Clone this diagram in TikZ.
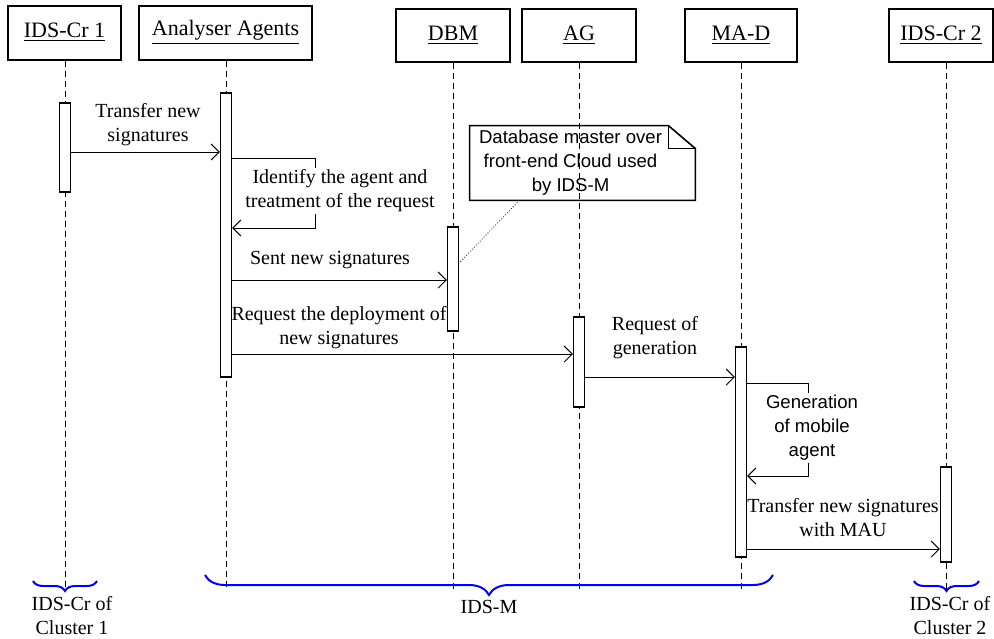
\documentclass[tikz,border=0pt]{standalone}
\usepackage{fontspec}
\setmainfont{Liberation Serif}
\newfontfamily\notefont{Liberation Sans}
\usepackage{tikz}
\usetikzlibrary{arrows.meta, positioning, calc, decorations.pathreplacing}
\definecolor{braceblue}{RGB}{0,0,235}

\begin{document}
\begin{tikzpicture}[
  x=0.5pt, y=-0.5pt,
  head/.style={rectangle, draw, line width=1pt, minimum height=27pt,
    inner sep=0pt, font=\fontsize{11}{13}\selectfont},
  life/.style={line width=0.4pt, dash pattern=on 3pt off 2pt},
  act/.style={rectangle, draw, fill=white, line width=0.6pt,
    minimum width=5.5pt, inner sep=0pt},
  msg/.style={-{Straight Barb[length=4pt,width=8pt]}, line width=0.5pt},
  lbl/.style={align=center, font=\fontsize{10}{12}\selectfont, inner sep=1pt},
  side/.style={align=center, font=\notefont\fontsize{9.3}{12}\selectfont,
    inner sep=1pt},
  brc/.style={decorate, draw=braceblue, line width=1pt}
]
\useasboundingbox (0,0) rectangle (994,638);

% Lifeline heads
\node[head, minimum width=56.5pt] (cr1) at (64.5,32.5) {\underline{IDS-Cr 1}};
\node[head, minimum width=86.5pt] (ana) at (225.5,32.5) {\underline{Analyser Agents}};
\node[head, minimum width=57pt, minimum height=26.5pt] (dbm) at (453,35.5) {\underline{DBM}};
\node[head, minimum width=57pt, minimum height=26.5pt] (ag) at (579,35.5) {\underline{AG}};
\node[head, minimum width=56pt, minimum height=26.5pt] (mad) at (741,35.5) {\underline{MA-D}};
\node[head, minimum width=52pt, minimum height=26.5pt] (cr2) at (941,35.5) {\underline{IDS-Cr 2}};

% Lifelines
\foreach \h/\x in {cr1/65, ana/226, dbm/453, ag/579, mad/741, cr2/946}
  \draw[life] (\x,0 |- \h.south) -- (\x,590);

% Activation bars
\node[act, minimum height=44.5pt] (b1) at (65,147.5) {};
\node[act, minimum height=142pt] (b2) at (226,235) {};
\node[act, minimum height=52pt] (b3) at (453,279) {};
\node[act, minimum height=45pt] (b4) at (579,362) {};
\node[act, minimum height=105pt] (b5) at (741,452) {};
\node[act, minimum height=47.5pt] (b6) at (946,514.5) {};

% Messages
\draw[msg] (b1.east |- 0,152) -- (b2.west |- 0,152);
\node[lbl] (m1) at (148,125) {Transfer new\\signatures};

\draw[msg] (b2.east |- 0,158) -- ++(83,0) -- ++(0,70) -- (b2.east |- 0,228);
\node[lbl, fill=white] (m2) at (340,191) {Identify the agent and\\treatment of the request};

\draw[msg] (b2.east |- 0,280) -- (b3.west |- 0,280);
\node[lbl] (m3) at (330,260) {Sent new signatures};

\draw[msg] (b2.east |- 0,354) -- (b4.west |- 0,354);
\node[lbl] (m4) at (339,328) {Request the deployment of\\new signatures};

\draw[msg] (b4.east |- 0,377) -- (b5.west |- 0,377);
\node[lbl] (m5) at (655,338) {Request of\\generation};

\draw[msg] (b5.east |- 0,383) -- ++(61,0) -- ++(0,93) -- (b5.east |- 0,476);
\node[side, fill=white] (m6) at (812,428) {Generation\\of mobile\\agent};

\draw[msg] (b5.east |- 0,549) -- (b6.west |- 0,549);
\node[lbl] (m7) at (843,518) {Transfer new signatures\\with MAU};

% Note on DBM
\node[minimum width=112.5pt, minimum height=37pt, inner sep=0pt] (note) at (582.5,163) {};
\node[side] (notetxt) at ([xshift=-6pt]note.center) {Database master over\\front-end Cloud used\\by IDS-M};
\draw[line width=0.8pt] (note.north west) -- ([xshift=-13.5pt]note.north east)
  -- ([yshift=-11.5pt]note.north east) -- (note.south east) -- (note.south west) -- cycle;
\draw[line width=0.4pt] ([xshift=-13.5pt]note.north east) |- ([yshift=-11.5pt]note.north east);
\draw[densely dotted, line width=0.4pt] ($(note.south west)!0.22!(note.south east)$) -- (b3.east |- 0,263);

% Groups
\coordinate (c1l) at (33,581);
\coordinate (c1r) at (97,581);
\coordinate (ml) at (205,575);
\coordinate (mr) at (773,575);
\coordinate (c2l) at (914,581);
\coordinate (c2r) at (979,581);
\draw[brc, decoration={brace, mirror, amplitude=5pt}] (c1l) -- (c1r);
\draw[brc, decoration={brace, mirror, amplitude=10pt}] (ml) -- (mr);
\draw[brc, decoration={brace, mirror, amplitude=5pt}] (c2l) -- (c2r);
\node[lbl] (g1) at (72,616) {IDS-Cr of\\Cluster 1};
\node[lbl] (g2) at (489,607) {IDS-M};
\node[lbl] (g3) at (950,616) {IDS-Cr of\\Cluster 2};
\end{tikzpicture}
\end{document}
